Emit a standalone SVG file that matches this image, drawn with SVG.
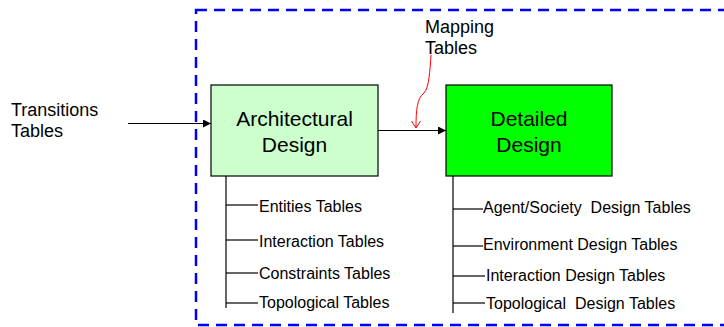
<svg xmlns="http://www.w3.org/2000/svg" width="724" height="327" viewBox="0 0 724 327">
<defs>
<style>
text{font-family:"Liberation Sans",Arial,sans-serif;fill:#000;white-space:pre}
.big{font-size:21px;text-anchor:middle}
.lbl{font-size:18px}
.sm{font-size:16px}
.ln{stroke:#000;stroke-width:1.2;fill:none}
.box{stroke:#000;stroke-width:1.2}
</style>
<marker id="ah" viewBox="0 0 10 10" refX="10" refY="5" markerWidth="8" markerHeight="8" markerUnits="userSpaceOnUse" orient="auto">
<path d="M0,0 L10,5 L0,10 z" fill="#000"/>
</marker>
</defs>
<rect x="196" y="10" width="560" height="315" fill="none" stroke="#0000ff" stroke-width="2.5" stroke-dasharray="11 7"/>
<g id="transitions">
<text class="lbl" x="11" y="116">Transitions</text>
<text class="lbl" x="11" y="137">Tables</text>
</g>
<g id="mapping">
<text class="lbl" x="425" y="33">Mapping</text>
<text class="lbl" x="425" y="54">Tables</text>
</g>
<g id="architectural">
<rect class="box" x="211" y="85" width="167" height="91" fill="#ccffcc"/>
<text class="big" x="294.5" y="126">Architectural</text>
<text class="big" x="294.5" y="152">Design</text>
</g>
<g id="detailed">
<rect class="box" x="446" y="85" width="166" height="91" fill="#00ff00"/>
<text class="big" x="529" y="126">Detailed</text>
<text class="big" x="529" y="152">Design</text>
</g>
<g id="arch-tables">
<text class="sm" x="259" y="212">Entities Tables</text>
<text class="sm" x="259" y="247">Interaction Tables</text>
<text class="sm" x="259" y="279">Constraints Tables</text>
<text class="sm" x="259" y="308">Topological Tables</text>
</g>
<g id="detail-tables">
<text class="sm" x="483" y="213">Agent/Society  Design Tables</text>
<text class="sm" x="483" y="250">Environment Design Tables</text>
<text class="sm" x="486" y="281">Interaction Design Tables</text>
<text class="sm" x="486" y="309">Topological  Design Tables</text>
</g>
<g id="connectors">
<line class="ln" x1="128" y1="123.5" x2="211" y2="123.5" marker-end="url(#ah)"/>
<line class="ln" x1="378" y1="130.5" x2="446" y2="130.5" marker-end="url(#ah)"/>
<path d="M431,55 C430,70 429,88 424,93 C417,98 416,110 416,128" fill="none" stroke="#ff0000" stroke-width="1"/>
<path d="M411.5,121 L416,128 L420.5,121" fill="none" stroke="#ff0000" stroke-width="1"/>
<line class="ln" x1="226" y1="176" x2="226" y2="308" stroke-width="1.5"/>
<line class="ln" x1="226" y1="205" x2="258" y2="205"/>
<line class="ln" x1="226" y1="240" x2="258" y2="240"/>
<line class="ln" x1="226" y1="273" x2="258" y2="273"/>
<line class="ln" x1="226" y1="303" x2="258" y2="303"/>
<line class="ln" x1="453" y1="176" x2="453" y2="313" stroke-width="1.5"/>
<line class="ln" x1="453" y1="209" x2="483" y2="209"/>
<line class="ln" x1="453" y1="246" x2="483" y2="246"/>
<line class="ln" x1="453" y1="276" x2="485" y2="276"/>
<line class="ln" x1="453" y1="303" x2="485" y2="303"/>
</g>
</svg>
